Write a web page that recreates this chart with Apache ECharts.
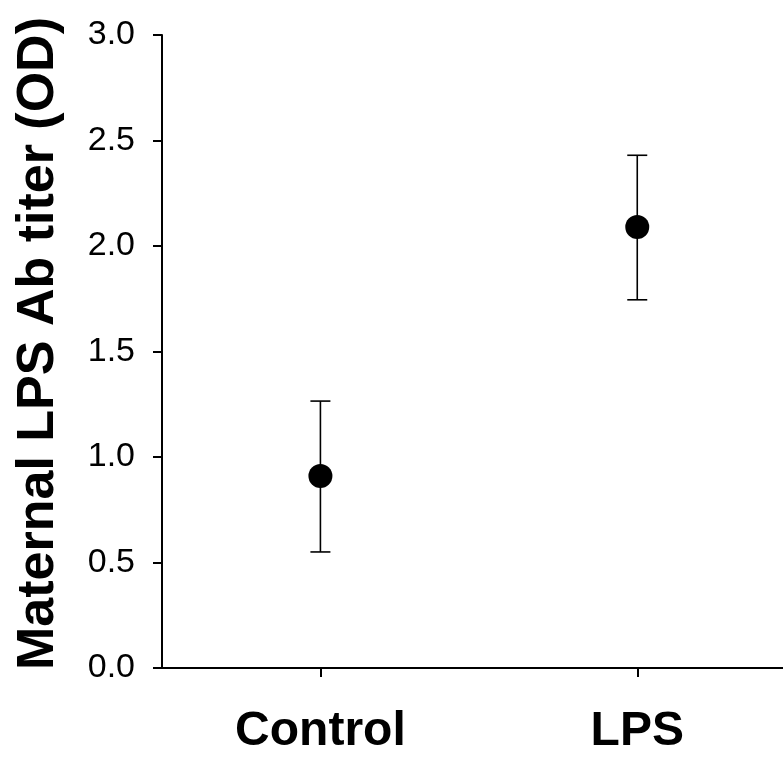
<!DOCTYPE html>
<html>
<head>
<meta charset="utf-8">
<script src="https://cdn.jsdelivr.net/npm/echarts@6/dist/echarts.min.js"></script>
<style>
  html, body { margin: 0; padding: 0; background: #fff; }
  #main { width: 783px; height: 759px; }
</style>
</head>
<body>
<div id="main"></div>
<script>
  var groups = ['Control', 'LPS'];
  var means = [0.91, 2.09];
  var upper = [1.265, 2.43];
  var lower = [0.55, 1.745];

  var myChart = echarts.init(document.getElementById('main'), null, { renderer: 'canvas' });

  var pos = groups.map(function (g, i) { return i; });
  var errData = groups.map(function (g, i) {
    return [i, lower[i], upper[i]];
  });
  var pointData = groups.map(function (g, i) {
    return [i, means[i]];
  });

  var option = {
    animation: false,
    grid: { left: 162, top: 35, bottom: 91, right: 0 },
    xAxis: {
      type: 'value',
      min: -0.5,
      max: 1.46,
      axisLine: { onZero: false, lineStyle: { color: '#000', width: 2 } },
      axisTick: { customValues: pos, length: 9, lineStyle: { color: '#000', width: 2 } },
      axisLabel: {
        customValues: pos,
        formatter: function (v) { return groups[Math.round(v)]; },
        margin: 40,
        color: '#000',
        fontFamily: 'Liberation Sans, Arial, sans-serif',
        fontWeight: 'bold',
        fontSize: 48
      },
      splitLine: { show: false }
    },
    yAxis: {
      type: 'value',
      min: 0,
      max: 3,
      interval: 0.5,
      name: 'Maternal LPS Ab titer (OD)',
      nameLocation: 'middle',
      nameGap: 97,
      nameTextStyle: {
        color: '#000',
        fontFamily: 'Liberation Sans, Arial, sans-serif',
        fontWeight: 'bold',
        fontSize: 52,
        padding: [0, 0, 0, 16]
      },
      axisLine: { show: true, onZero: false, lineStyle: { color: '#000', width: 2 } },
      axisTick: { show: true, length: 9, lineStyle: { color: '#000', width: 2 } },
      axisLabel: {
        margin: 27,
        color: '#000',
        fontFamily: 'Liberation Sans, Arial, sans-serif',
        fontSize: 34,
        formatter: function (v) { return v.toFixed(1); }
      },
      splitLine: { show: false }
    },
    series: [
      {
        type: 'custom',
        data: errData,
        renderItem: function (params, api) {
          var x = api.value(0);
          var lo = api.coord([x, api.value(1)]);
          var hi = api.coord([x, api.value(2)]);
          var w = 10;
          var style = { stroke: '#000', lineWidth: 1.6 };
          return {
            type: 'group',
            children: [
              { type: 'line', shape: { x1: lo[0], y1: lo[1], x2: hi[0], y2: hi[1] }, style: style },
              { type: 'line', shape: { x1: hi[0] - w, y1: hi[1], x2: hi[0] + w, y2: hi[1] }, style: style },
              { type: 'line', shape: { x1: lo[0] - w, y1: lo[1], x2: lo[0] + w, y2: lo[1] }, style: style }
            ]
          };
        },
        z: 2
      },
      {
        type: 'scatter',
        data: pointData,
        symbol: 'circle',
        symbolSize: 24,
        itemStyle: { color: '#000', opacity: 1 },
        z: 3
      }
    ]
  };

  myChart.setOption(option);
</script>
</body>
</html>
